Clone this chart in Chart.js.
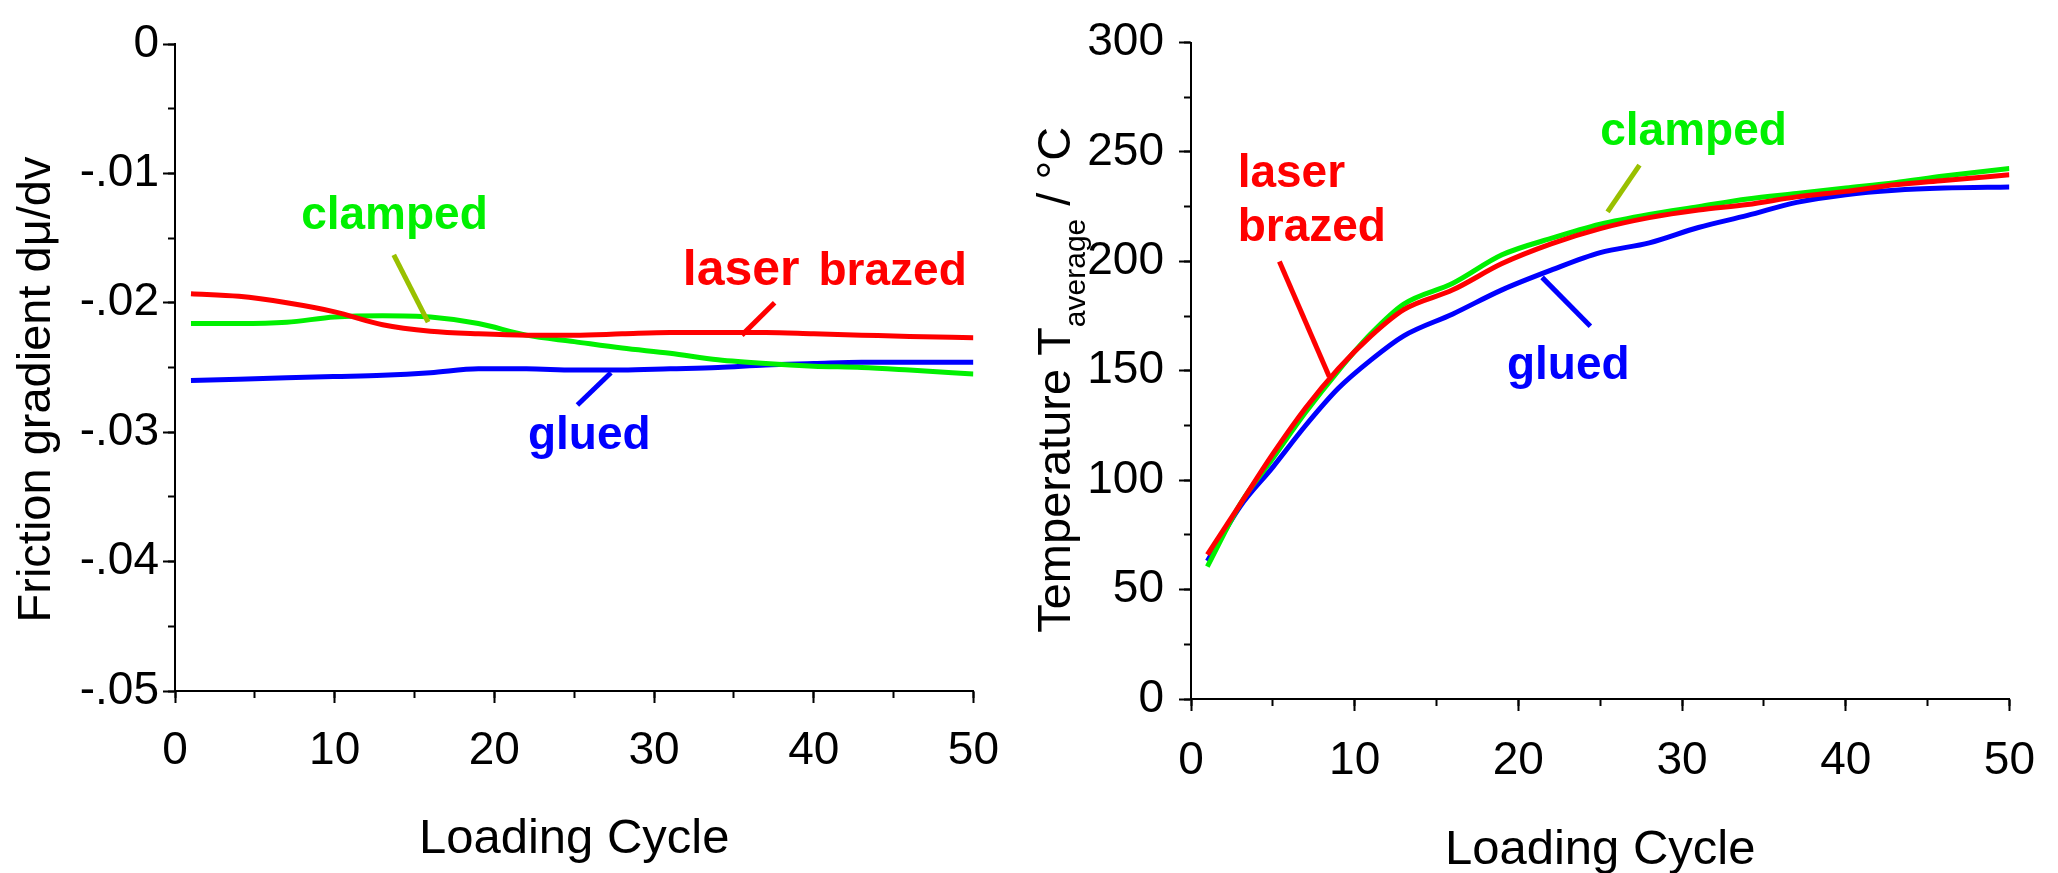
<!DOCTYPE html>
<html>
<head>
<meta charset="utf-8">
<script src="https://cdn.jsdelivr.net/npm/chart.js@4.4.1/dist/chart.umd.min.js"></script>
<style>
  body { margin: 0; background: #fff; }
  #wrap { position: relative; width: 2058px; height: 873px; overflow: hidden; }
  canvas { position: absolute; top: 0; }
</style>
</head>
<body>
<div id="wrap">
  <canvas id="frictionChart" width="1020" height="873" style="left:0"></canvas>
  <canvas id="tempChart" width="1038" height="873" style="left:1020px"></canvas>
</div>
<script>
// left panel: friction gradient per loading cycle
const frictionCycles = [1, 4, 7, 10, 13, 16, 19, 22, 25, 28, 31, 34, 37, 40, 43, 46, 50];
const frictionLaser = [-0.0193, -0.0195, -0.0200, -0.0207, -0.0217, -0.0222, -0.0224, -0.0225, -0.0225, -0.0224, -0.0223, -0.0223, -0.0223, -0.0224, -0.0225, -0.0226, -0.0227];
const frictionClamped = [-0.0216, -0.0216, -0.0215, -0.0211, -0.0210, -0.0211, -0.0216, -0.0225, -0.0230, -0.0235, -0.0239, -0.0244, -0.0247, -0.0249, -0.0250, -0.0252, -0.0255];
const frictionGlued = [-0.0260, -0.0259, -0.0258, -0.0257, -0.0256, -0.0254, -0.0251, -0.0251, -0.0252, -0.0252, -0.0251, -0.0250, -0.0248, -0.0247, -0.0246, -0.0246, -0.0246];

// right panel: average temperature per loading cycle
const tempCycles = [1, 3, 5, 7, 9, 11, 13, 16, 19, 22, 25, 28, 31, 34, 37, 40, 43, 46, 50];
const tempLaser = [66, 89, 112, 133, 151, 166, 178, 187, 199, 208, 215, 220, 223.5, 226, 229.5, 232, 235, 237, 239.6];
const tempClamped = [60.5, 89, 110, 131, 150, 167, 180.5, 190, 203, 210.5, 217, 221.5, 225, 228.5, 231, 233.5, 236, 239, 242.5];
const tempGlued = [63, 88, 106, 125, 142, 155, 166, 176, 187, 196, 204, 208.5, 215.5, 221, 227, 230.5, 232.5, 233.5, 234];

const RED = '#ff0000', GREEN = '#00f000', BLUE = '#0000ff', OLIVE = '#99c000';
const FAMILY = "'Liberation Sans', Arial, sans-serif";
Chart.defaults.font.family = FAMILY;
Chart.defaults.color = '#000';

function series(label, xs, ys, color) {
  return {
    label: label,
    data: xs.map((c, i) => ({ x: c, y: ys[i] })),
    borderColor: color,
    borderWidth: 5,
    pointRadius: 0,
    cubicInterpolationMode: 'monotone',
    fill: false
  };
}

function fmtFriction(v) {
  if (Math.abs(v) < 1e-9) return '0';
  return '-' + Math.abs(v).toFixed(2).replace(/^0/, '');
}

function makeScales(o) {
  const tickGrid = { drawOnChartArea: false, tickLength: 12, tickWidth: 2, tickColor: '#000' };
  const minorGrid = { drawOnChartArea: false, tickLength: 7, tickWidth: 2, tickColor: '#000' };
  return {
    x: {
      type: 'linear', position: 'bottom', weight: 1, min: 0, max: 50,
      ticks: { stepSize: 10, font: { size: 46 }, color: '#000', padding: o.xPad, maxRotation: 0 },
      grid: tickGrid,
      border: { color: '#000', width: 2 },
      title: { display: true, text: 'Loading Cycle', color: '#000',
               font: { size: 49, lineHeight: 0.8 }, padding: { top: 0, bottom: o.titlePad } },
      afterFit: s => { s.height = o.xHeight; }
    },
    xMinor: {
      type: 'linear', position: 'bottom', weight: 0, min: 0, max: 50,
      ticks: { display: false, stepSize: 5 },
      grid: minorGrid,
      border: { display: false },
      afterFit: s => { s.height = 0; }
    },
    y: {
      type: 'linear', position: 'left', weight: 1, min: o.yMin, max: o.yMax,
      ticks: { stepSize: o.yStep, font: { size: 46 }, color: '#000', padding: o.yPad, callback: o.fmt },
      grid: tickGrid,
      border: { color: '#000', width: 2 },
      afterFit: s => { s.width = o.yWidth; }
    },
    yMinor: {
      type: 'linear', position: 'left', weight: 0, min: o.yMin, max: o.yMax,
      ticks: { display: false, stepSize: o.yStep / 2 },
      grid: minorGrid,
      border: { display: false },
      afterFit: s => { s.width = 0; }
    }
  };
}

// labels with leader lines, placed in data coordinates
function notesPlugin(lines, texts) {
  return {
    id: 'notes',
    afterDatasetsDraw(chart) {
      const { ctx, scales: { x, y } } = chart;
      ctx.save();
      lines.forEach(l => {
        ctx.strokeStyle = l.color;
        ctx.lineWidth = 5;
        ctx.beginPath();
        ctx.moveTo(x.getPixelForValue(l.from[0]), y.getPixelForValue(l.from[1]));
        ctx.lineTo(x.getPixelForValue(l.to[0]), y.getPixelForValue(l.to[1]));
        ctx.stroke();
      });
      ctx.textAlign = 'left';
      ctx.textBaseline = 'alphabetic';
      texts.forEach(t => {
        ctx.font = 'bold ' + t.size + 'px ' + FAMILY;
        ctx.fillStyle = t.color;
        ctx.fillText(t.text, x.getPixelForValue(t.at[0]), y.getPixelForValue(t.at[1]));
      });
      ctx.restore();
    }
  };
}

// rotated y axis title, parts may be lowered (subscript)
function yTitlePlugin(parts, dx, dy) {
  return {
    id: 'yTitle',
    afterDraw(chart) {
      const { ctx, chartArea } = chart;
      ctx.save();
      let total = 0;
      parts.forEach(p => { ctx.font = p.size + 'px ' + FAMILY; total += ctx.measureText(p.text).width; });
      ctx.translate(chartArea.left + dx, (chartArea.top + chartArea.bottom) / 2 + dy);
      ctx.rotate(-Math.PI / 2);
      ctx.fillStyle = '#000';
      ctx.textAlign = 'left';
      ctx.textBaseline = 'alphabetic';
      let pos = -total / 2;
      parts.forEach(p => {
        ctx.font = p.size + 'px ' + FAMILY;
        ctx.fillText(p.text, pos, p.lower || 0);
        pos += ctx.measureText(p.text).width;
      });
      ctx.restore();
    }
  };
}

new Chart(document.getElementById('frictionChart'), {
  type: 'line',
  data: {
    datasets: [
      series('laser brazed', frictionCycles, frictionLaser, RED),
      series('clamped', frictionCycles, frictionClamped, GREEN),
      series('glued', frictionCycles, frictionGlued, BLUE)
    ]
  },
  options: {
    responsive: false,
    animation: false,
    layout: { padding: { top: 44, right: 38, left: 0, bottom: 0 } },
    scales: makeScales({ yMin: -0.05, yMax: 0, yStep: 0.01, fmt: fmtFriction,
                         yWidth: 175, yPad: 4, xHeight: 182, xPad: 21, titlePad: 14 }),
    plugins: { legend: { display: false }, tooltip: { enabled: false } }
  },
  plugins: [
    notesPlugin([
      { from: [13.7, -0.0163], to: [15.85, -0.0215], color: OLIVE },
      { from: [37.55, -0.0200], to: [35.5, -0.0225], color: RED },
      { from: [27.3, -0.0254], to: [25.2, -0.0279], color: BLUE }
    ], [
      { text: 'clamped', at: [7.9, -0.0143], size: 46, color: GREEN },
      { text: 'laser', at: [31.8, -0.0186], size: 50, color: RED },
      { text: 'brazed', at: [40.3, -0.0186], size: 46, color: RED },
      { text: 'glued', at: [22.1, -0.0313], size: 46, color: BLUE }
    ]),
    yTitlePlugin([{ text: 'Friction gradient d\u03bc/dv', size: 47 }], -125, 22)
  ]
});

new Chart(document.getElementById('tempChart'), {
  type: 'line',
  data: {
    datasets: [
      series('laser brazed', tempCycles, tempLaser, RED),
      series('clamped', tempCycles, tempClamped, GREEN),
      series('glued', tempCycles, tempGlued, BLUE)
    ]
  },
  options: {
    responsive: false,
    animation: false,
    layout: { padding: { top: 33, right: 34, left: 0, bottom: 0 } },
    scales: makeScales({ yMin: 0, yMax: 300, yStep: 50, fmt: v => String(v),
                         yWidth: 171, yPad: 15, xHeight: 174, xPad: 23, titlePad: 3 }),
    plugins: { legend: { display: false }, tooltip: { enabled: false } }
  },
  plugins: [
    notesPlugin([
      { from: [27.4, 244], to: [25.45, 222.6], color: OLIVE },
      { from: [5.4, 200], to: [8.45, 147.3], color: RED },
      { from: [21.45, 192.7], to: [24.4, 170.4], color: BLUE }
    ], [
      { text: 'clamped', at: [25, 253], size: 46, color: GREEN },
      { text: 'laser', at: [2.85, 234], size: 46, color: RED },
      { text: 'brazed', at: [2.85, 209.5], size: 46, color: RED },
      { text: 'glued', at: [19.3, 146.4], size: 46, color: BLUE }
    ]),
    yTitlePlugin([
      { text: 'Temperature T', size: 47 },
      { text: 'average', size: 30, lower: 15 },
      { text: ' / \u00b0C', size: 47 }
    ], -121, 9)
  ]
});
</script>
</body>
</html>
